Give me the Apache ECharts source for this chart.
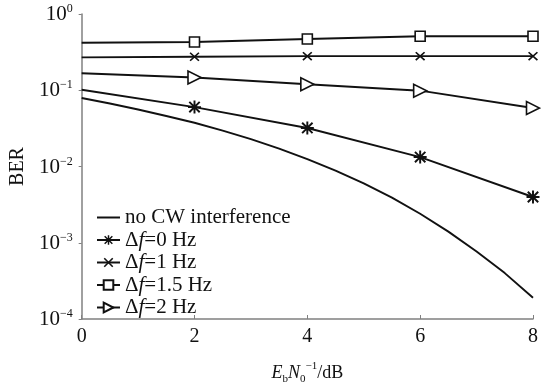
<!DOCTYPE html>
<html>
<head>
<meta charset="utf-8">
<script src="https://cdn.jsdelivr.net/npm/echarts@6/dist/echarts.min.js"></script>
<style>
html,body{margin:0;padding:0;background:#fff;}
#chart{width:541px;height:390px;}
</style>
</head>
<body>
<div id="chart"></div>
<script>
// ---- data ----
const seriesNames = ['no CW interference', 'Δf=0 Hz', 'Δf=1 Hz', 'Δf=1.5 Hz', 'Δf=2 Hz'];
const xMarked = [0, 2, 4, 6, 8];
const xCurve = [0, 0.5, 1, 1.5, 2, 2.5, 3, 3.5, 4, 4.5, 5, 5.5, 6, 6.5, 7, 7.5, 8];
const berNoCW = [0.079, 0.067, 0.056, 0.046, 0.0375, 0.0296, 0.0229, 0.0172, 0.0125, 0.0088, 0.0060, 0.0039, 0.0024, 0.0014, 0.00077, 0.0004, 0.00019];
const berDf0 = [0.1016, 0.0601, 0.032, 0.0133, 0.00398];
const berDf1 = [0.27, 0.275, 0.28, 0.28, 0.28];
const berDf15 = [0.42, 0.43, 0.47, 0.51, 0.51];
const berDf2 = [0.167, 0.147, 0.120, 0.0987, 0.0584];
const xTicks = [0, 2, 4, 6, 8];
const yTickExponents = [0, -1, -2, -3, -4];

const FONT = '"Liberation Serif", "DejaVu Serif", serif';
const pair = (xs, ys) => xs.map((x, i) => [x, ys[i]]);
// markers are drawn at every point except the first (x = 0)
const pairMarked = (xs, ys) => xs.map((x, i) => i === 0 ? {value: [x, ys[i]], symbol: 'none'} : [x, ys[i]]);

const asteriskPath = 'path://M0 8.5H20V11.5H0Z M8.5 0H11.5V20H8.5Z M0.94 3.06L3.06 0.94L19.06 16.94L16.94 19.06Z M16.94 0.94L19.06 3.06L3.06 19.06L0.94 16.94Z';
const crossPath = 'path://M0.94 3.06L3.06 0.94L19.06 16.94L16.94 19.06Z M16.94 0.94L19.06 3.06L3.06 19.06L0.94 16.94Z';

const lineStyle = {color: '#111', width: 1.9};
const chart = echarts.init(document.getElementById('chart'), null, {renderer: 'canvas'});
chart.setOption({
  animation: false,
  backgroundColor: '#fff',
  grid: {left: 77.5, right: 7, top: 14, bottom: 67, containLabel: false},
  legend: {
    orient: 'vertical', left: 91, top: 202,
    itemWidth: 23, itemHeight: 12, itemGap: 1.5,
    data: [
      {name: seriesNames[0], itemStyle: {color: 'rgba(0,0,0,0)', borderWidth: 0, opacity: 0}},
      seriesNames[1], seriesNames[2], seriesNames[3], seriesNames[4]
    ],
    textStyle: {
      fontFamily: FONT, fontSize: 21, color: '#111', lineHeight: 21,
      rich: {
        n: {fontFamily: FONT, fontSize: 21, color: '#111'},
        i: {fontFamily: FONT, fontSize: 21, color: '#111', fontStyle: 'italic'}
      }
    },
    formatter: function (name) {
      if (name.indexOf('Δf') === 0) {
        return '{n|Δ}{i|f}{n|' + name.slice(2) + '}';
      }
      return '{n|' + name + '}';
    }
  },
  xAxis: {
    type: 'value', min: 0, max: 8, interval: 2,
    name: '{i|E}{sub|b}{i|N}{sub|0}{sup|−1}{n|/dB}',
    nameLocation: 'middle', nameGap: 42,
    nameTextStyle: {
      rich: {
        i: {fontFamily: FONT, fontSize: 18, fontStyle: 'italic', color: '#111', lineHeight: 24, verticalAlign: 'middle'},
        n: {fontFamily: FONT, fontSize: 18, color: '#111', lineHeight: 24, verticalAlign: 'middle'},
        sub: {fontFamily: FONT, fontSize: 11, color: '#111', lineHeight: 24, verticalAlign: 'bottom'},
        sup: {fontFamily: FONT, fontSize: 11, color: '#111', lineHeight: 24, verticalAlign: 'top'}
      }
    },
    axisLine: {lineStyle: {color: '#808080', width: 1.5}},
    axisTick: {inside: true, length: 4, lineStyle: {color: '#808080'}},
    axisLabel: {fontFamily: FONT, fontSize: 20, color: '#111', margin: 8,
      formatter: v => xTicks.indexOf(v) >= 0 ? String(v) : ''},
    splitLine: {show: false}
  },
  yAxis: {
    type: 'log', logBase: 10, min: 1e-4, max: 1,
    name: 'BER', nameLocation: 'middle', nameRotate: 90, nameGap: 47,
    nameTextStyle: {fontFamily: FONT, fontSize: 20, color: '#111'},
    axisLine: {show: true, lineStyle: {color: '#808080', width: 1.5}},
    axisTick: {show: true, inside: false, length: 3, lineStyle: {color: '#808080'}},
    axisLabel: {
      margin: 9,
      formatter: function (v) {
        const e = Math.round(Math.log10(v));
        if (yTickExponents.indexOf(e) < 0) return '';
        return '{b|10}{s|' + (e < 0 ? '−' + (-e) : String(e)) + '}';
      },
      rich: {
        b: {fontFamily: FONT, fontSize: 21, color: '#111', lineHeight: 22, verticalAlign: 'bottom'},
        s: {fontFamily: FONT, fontSize: 12, color: '#111', lineHeight: 22, verticalAlign: 'top'}
      }
    },
    splitLine: {show: false},
    minorTick: {show: false}
  },
  series: [
    {name: seriesNames[0], type: 'line', data: pair(xCurve, berNoCW), symbol: 'none',
      lineStyle: lineStyle, itemStyle: {color: '#111'}},
    {name: seriesNames[1], type: 'line', data: pairMarked(xMarked, berDf0), symbol: asteriskPath, symbolSize: 13,
      lineStyle: lineStyle, itemStyle: {color: '#111'}},
    {name: seriesNames[2], type: 'line', data: pairMarked(xMarked, berDf1), symbol: crossPath, symbolSize: [10, 9],
      lineStyle: lineStyle, itemStyle: {color: '#111'}},
    {name: seriesNames[3], type: 'line', data: pairMarked(xMarked, berDf15), symbol: 'rect', symbolSize: 10,
      lineStyle: lineStyle, itemStyle: {color: '#fff', borderColor: '#111', borderWidth: 1.6}},
    {name: seriesNames[4], type: 'line', data: pairMarked(xMarked, berDf2), symbol: 'triangle', symbolSize: [13, 13], symbolRotate: -90,
      lineStyle: lineStyle, itemStyle: {color: '#fff', borderColor: '#111', borderWidth: 1.6}}
  ]
});
</script>
</body>
</html>
